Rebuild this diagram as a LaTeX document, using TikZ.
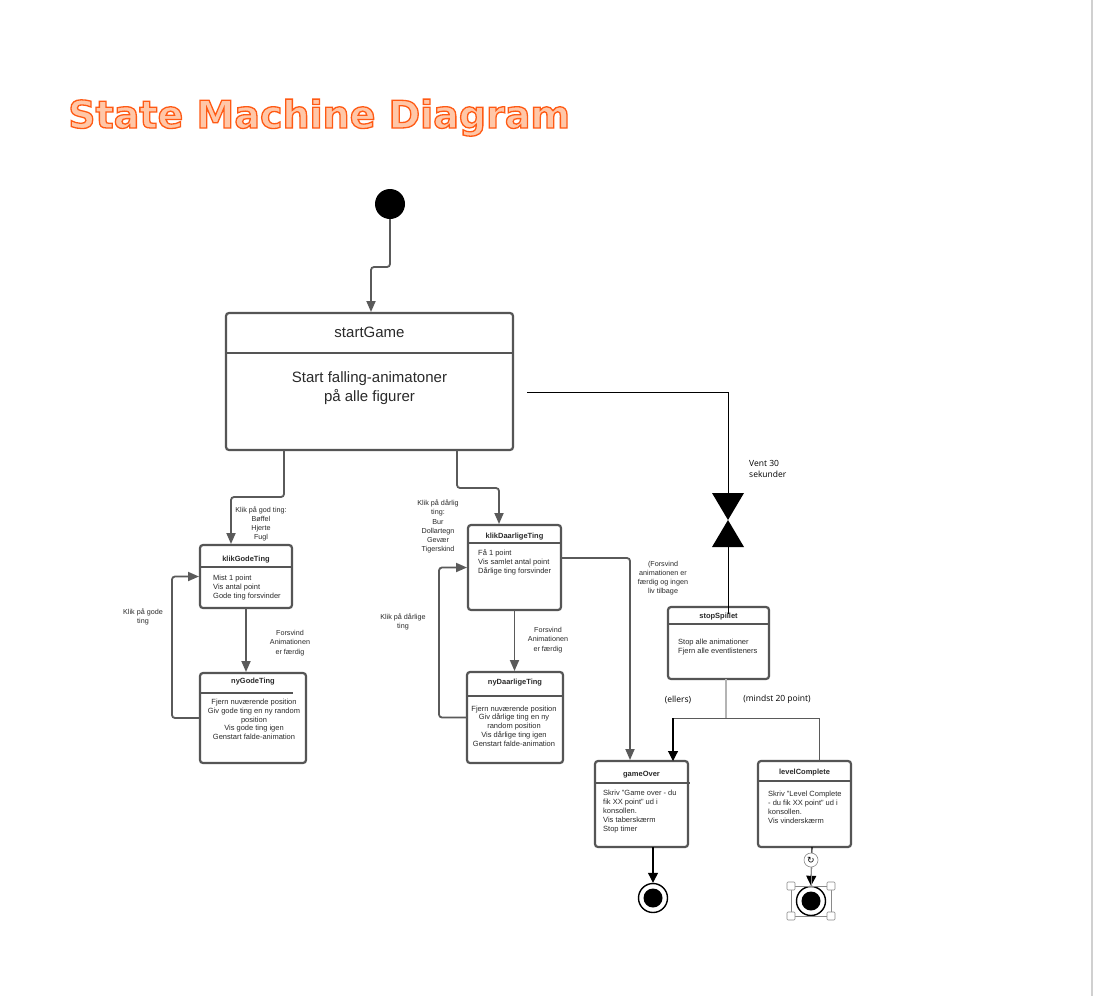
\documentclass[tikz,border=0pt]{standalone}
\usepackage{fontspec}
\setmainfont{Liberation Sans}
\newfontfamily\titlefont{DejaVu Sans}
\newfontfamily\notefont{Open Sans}
\newfontfamily\symfont{DejaVu Sans}
\usetikzlibrary{arrows.meta}
\definecolor{boxgray}{HTML}{555555}
\definecolor{linegray}{HTML}{5A5A5A}
\definecolor{stemgray}{HTML}{B4B4B4}
\definecolor{txt}{HTML}{2A2A2A}
\definecolor{titleorange}{HTML}{FF5A14}
\definecolor{bargray}{HTML}{D0D0D0}
\definecolor{selgray}{HTML}{8A8A8A}
\tikzset{
  stbox/.style={draw=boxgray, line width=2.2pt, rounded corners=3pt, anchor=north west, inner sep=0pt, outer sep=0pt, fill=white},
  divider/.style={draw=boxgray, line width=1.1pt},
  stitle/.style={font=\bfseries\fontsize{7.5}{9}\selectfont, text=txt, inner sep=0pt},
  sbody/.style={font=\fontsize{7.5}{9}\selectfont, text=txt, inner sep=0pt, align=left, anchor=west},
  sbodyc/.style={font=\fontsize{7.5}{8.8}\selectfont, text=txt, inner sep=0pt, align=center},
  lbl/.style={font=\fontsize{7.2}{9.2}\selectfont, text=txt, inner sep=0pt, align=center},
  note/.style={font=\notefont\fontsize{8.5}{11}\selectfont, text=black, inner sep=0pt},
  conn/.style={draw=linegray, line width=1.8pt, rounded corners=3pt, -{Triangle[length=11pt,width=9pt]}, shorten >=1pt},
  blk/.style={draw=black, line width=1.1pt, -{Triangle[length=10pt,width=10pt]}},
  handle/.style={draw=selgray, fill=white, line width=0.6pt, minimum size=8pt, inner sep=0pt, rounded corners=1pt}
}
\begin{document}
\begin{tikzpicture}[x=1pt,y=-1pt]
\useasboundingbox (0,0) rectangle (1094,996);
\fill[white] (0,0) rectangle (1094,996);
\fill[bargray] (1090.5,0) rectangle (1093,996);

% title
\node[anchor=base west, inner sep=0pt, text=titleorange, font=\titlefont\bfseries\fontsize{38}{40}\selectfont] (title) at (68,128) {\special{pdf:literal direct 2 Tr 1.3 w 1 0.78 0.66 rg}State Machine Diagram\special{pdf:literal direct 0 Tr}};

% initial state
\node[circle, fill=black, minimum size=30pt, inner sep=0pt] (init) at (390,204) {};

% startGame
\node[stbox, minimum width=287pt, minimum height=137pt] (start) at (226,313) {};
\draw[divider] (226,353) -- (513,353);
\node[font=\fontsize{15}{18}\selectfont, text=txt, inner sep=0pt] (startT) at (369.5,332) {startGame};
\node[font=\fontsize{15}{19}\selectfont, text=txt, inner sep=0pt, align=center] (startB) at (369.5,388) {Start falling-animatoner\\på alle figurer};

% klikGodeTing
\node[stbox, minimum width=92pt, minimum height=63pt] (kgt) at (200,545) {};
\draw[divider] (200,567) -- (292,567);
\node[stitle] (kgtT) at (246,560) {klikGodeTing};
\node[sbody] (kgtB) at (213,588) {Mist 1 point\\Vis antal point\\Gode ting forsvinder};

% nyGodeTing
\node[stbox, minimum width=106pt, minimum height=90pt] (ngt) at (200,673) {};
\draw[divider] (200,693) -- (293,693);
\node[stitle] (ngtT) at (253,682) {nyGodeTing};
\node[sbodyc] (ngtB) at (254,719.5) {Fjern nuværende position\\Giv gode ting en ny random\\position\\Vis gode ting igen\\Genstart falde-animation};

% klikDaarligeTing
\node[stbox, minimum width=93pt, minimum height=85pt] (kdt) at (468,525) {};
\draw[divider] (468,543) -- (561,543);
\node[stitle] (kdtT) at (514.5,536.5) {klikDaarligeTing};
\node[sbody] (kdtB) at (478,562.5) {Få 1 point\\Vis samlet antal point\\Dårlige ting forsvinder};

% nyDaarligeTing
\node[stbox, minimum width=96pt, minimum height=91pt] (ndt) at (467,672) {};
\draw[divider] (467,696) -- (563,696);
\node[stitle] (ndtT) at (515,683) {nyDaarligeTing};
\node[sbodyc] (ndtB) at (514,726) {Fjern nuværende position\\Giv dårlige ting en ny\\random position\\Vis dårlige ting igen\\Genstart falde-animation};

% stopSpillet
\node[stbox, minimum width=101pt, minimum height=72pt] (ss) at (668,607) {};
\draw[divider] (668,624) -- (769,624);
\node[stitle] (ssT) at (718.5,617) {stopSpillet};
\node[sbody] (ssB) at (678,647.5) {Stop alle animationer\\Fjern alle eventlisteners};

% gameOver
\node[stbox, minimum width=93pt, minimum height=86pt] (go) at (595,761) {};
\draw[divider] (595,783) -- (690,783);
\node[stitle] (goT) at (641.5,775) {gameOver};
\node[sbody] (goB) at (603,812) {Skriv "Game over - du\\fik XX point" ud i\\konsollen.\\Vis taberskærm\\Stop timer};

% levelComplete
\node[stbox, minimum width=93pt, minimum height=86pt] (lc) at (758,761) {};
\draw[divider] (758,781) -- (851,781);
\node[stitle] (lcT) at (804.5,773) {levelComplete};
\node[sbody] (lcB) at (768,807.5) {Skriv "Level Complete\\- du fik XX point" ud i\\konsollen.\\Vis vinderskærm};

% final states
\node[circle, draw=black, line width=1.4pt, minimum size=29pt, inner sep=0pt, fill=white] (fin1) at (653,898) {};
\fill[black] (fin1.center) circle (9.5);
\node[circle, draw=black, line width=1.4pt, minimum size=29pt, inner sep=0pt, fill=white] (fin2) at (811,901) {};
\fill[black] (fin2.center) circle (9.5);

% coordinates for connector ends
\coordinate (xa) at (371,0);
\coordinate (xb) at (284,0);
\coordinate (xc) at (231,0);
\coordinate (xd) at (457,0);
\coordinate (xe) at (499,0);
\coordinate (xf) at (630,0);
\coordinate (xg) at (673,0);
\coordinate (xh) at (819,0);
\coordinate (xi) at (726,0);
\coordinate (xj) at (653,0);
\coordinate (xk) at (812,0);
\coordinate (kdtOut) at (561,558);
\coordinate (tOut) at (527,392);
\coordinate (hgTop) at (728,493);
\coordinate (hgMid) at (728,520);
\coordinate (hgBot) at (728,547);
\coordinate (ssIn) at (728,614);
\coordinate (split) at (726,718);

% connectors
\draw[conn] (init.south) -- (390,267) -- (371,267) -- (xa |- start.north);
\draw[conn] (xb |- start.south) -- (284,497) -- (231,497) -- (xc |- kgt.north);
\draw[conn] (xd |- start.south) -- (457,488) -- (499,488) -- (xe |- kdt.north);
\draw[conn] (kgt.south) -- (kgt.south |- ngt.north);
\draw[conn] (kdt.south) -- (kdt.south |- ndt.north);
\draw[conn] (ngt.west) -- ++(-28,0) |- (kgt.west);
\draw[conn] (ndt.west) -- ++(-28,0) |- (kdt.west);
\draw[conn] (kdtOut) -- (630,558) -- (xf |- go.north);

% timer path to stopSpillet
\draw[black, line width=1pt] (tOut) -- (728,392) -- (hgTop);
\fill[black] (712,493) -- (744,493) -- (hgMid) -- cycle;
\fill[black] (712,547) -- (744,547) -- (hgMid) -- cycle;
\draw[black, line width=1pt] (hgBot) -- (ssIn);

% branches from stopSpillet
\draw[stemgray, line width=1.1pt] (xi |- ss.south) -- (split);
\draw[linegray, line width=1pt] (673,718) -- (819,718);
\draw[blk] (673,718) -- (xg |- go.north);
\draw[linegray, line width=1pt] (819,718) -- (xh |- lc.north);

% to final states
\draw[blk] (xj |- go.south) -- (fin1.north);
\draw[blk] (xk |- lc.south) -- (fin2.north);

% selection handles around final state
\draw[selgray, line width=0.5pt] (791,886) rectangle (831,916);
\draw[selgray, line width=0.5pt] (811,886) -- (811,867);
\node[handle] (h1) at (791,886) {};
\node[handle] (h2) at (831,886) {};
\node[handle] (h3) at (791,916) {};
\node[handle] (h4) at (831,916) {};
\node[circle, draw=selgray, fill=white, line width=0.6pt, minimum size=14pt, inner sep=0pt, font=\symfont\fontsize{9}{9}\selectfont] (rot) at (811,860) {↻};

% labels
\node[lbl] (l1) at (261,524) {Klik på god ting:\\Bøffel\\Hjerte\\Fugl};
\node[lbl] (l2) at (290,643) {Forsvind\\Animationen\\er færdig};
\node[lbl] (l3) at (143,617) {Klik på gode\\ting};
\node[lbl] (l4) at (438,526.5) {Klik på dårlig\\ting:\\Bur\\Dollartegn\\Gevær\\Tigerskind};
\node[lbl] (l5) at (548,640) {Forsvind\\Animationen\\er færdig};
\node[lbl] (l6) at (403,622) {Klik på dårlige\\ting};
\node[lbl] (l7) at (663,578) {(Forsvind\\animationen er\\færdig og ingen\\liv tilbage};
\node[note, align=left, anchor=west] (l8) at (749,468.5) {Vent 30\\sekunder};
\node[note] (l9) at (678,700) {(ellers)};
\node[note] (l10) at (777,699) {(mindst 20 point)};
\end{tikzpicture}
\end{document}
